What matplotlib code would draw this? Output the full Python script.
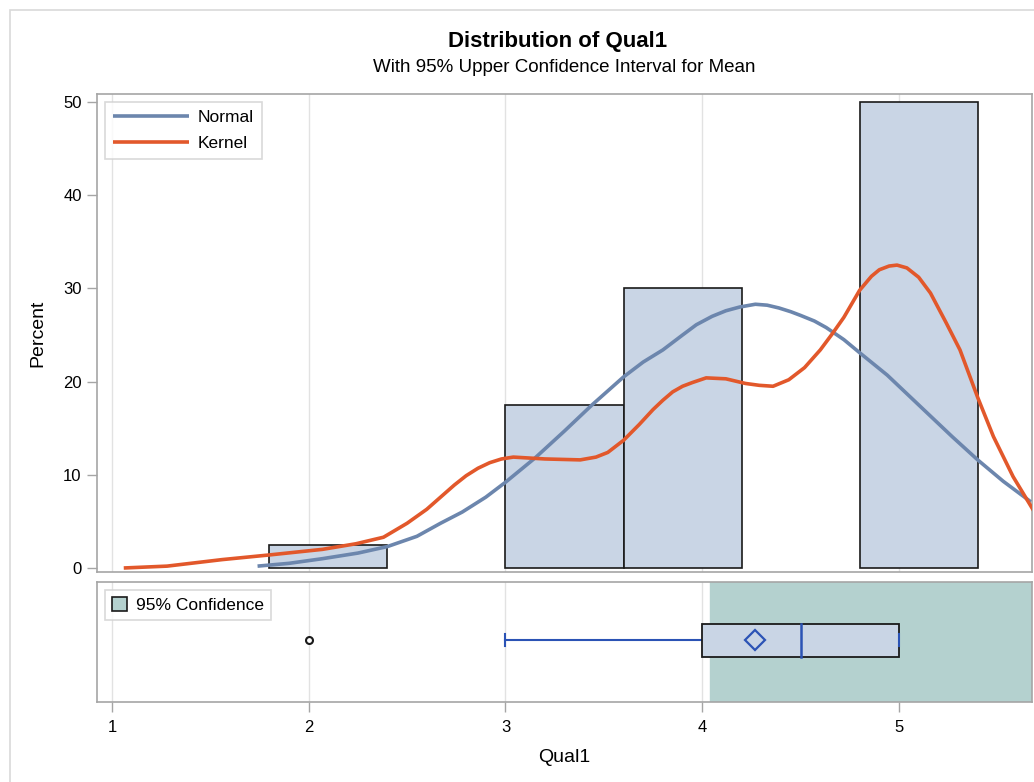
import matplotlib.pyplot as plt
from matplotlib.patches import Rectangle

plt.rcParams['font.family'] = ['Liberation Sans', 'DejaVu Sans']

# histogram bins of Qual1 (left edge, width, percent)
bin_left = [1.8, 3.0, 3.6, 4.8]
bin_width = 0.6
bin_pct = [2.5, 17.5, 30.0, 50.0]

# fitted normal density (percent scale)
normal_x = [1.74, 1.90, 2.07, 2.25, 2.40, 2.55, 2.67, 2.78, 2.90, 3.00, 3.15,
            3.30, 3.44, 3.60, 3.70, 3.80, 3.90, 3.97, 4.05, 4.12, 4.19, 4.27,
            4.33, 4.39, 4.45, 4.50, 4.57, 4.63, 4.72, 4.80, 4.94, 5.04, 5.14,
            5.27, 5.40, 5.53, 5.67]
normal_y = [0.2, 0.5, 1.0, 1.6, 2.3, 3.4, 4.8, 6.0, 7.6, 9.2, 11.8,
            14.7, 17.5, 20.5, 22.1, 23.4, 25.0, 26.1, 27.0, 27.6, 28.0, 28.3,
            28.2, 27.9, 27.5, 27.1, 26.5, 25.8, 24.5, 23.1, 20.7, 18.7, 16.7,
            14.1, 11.6, 9.3, 7.1]

# kernel density estimate (percent scale)
kernel_x = [1.06, 1.28, 1.56, 1.80, 2.07, 2.24, 2.38, 2.50, 2.60, 2.67, 2.74,
            2.80, 2.86, 2.92, 2.98, 3.04, 3.20, 3.38, 3.46, 3.52, 3.60, 3.68,
            3.75, 3.80, 3.85, 3.90, 3.95, 4.02, 4.12, 4.22, 4.29, 4.36, 4.44,
            4.52, 4.60, 4.66, 4.72, 4.80, 4.86, 4.90, 4.95, 4.99, 5.04, 5.10,
            5.16, 5.24, 5.31, 5.40, 5.48, 5.58, 5.70]
kernel_y = [0.0, 0.2, 0.9, 1.4, 2.0, 2.6, 3.3, 4.8, 6.3, 7.6, 8.9,
            9.9, 10.7, 11.3, 11.7, 11.9, 11.7, 11.6, 11.9, 12.4, 13.7, 15.4,
            17.0, 18.0, 18.9, 19.5, 19.9, 20.4, 20.3, 19.8, 19.6, 19.5, 20.2,
            21.5, 23.4, 25.1, 26.9, 29.8, 31.3, 32.0, 32.4, 32.5, 32.2, 31.2,
            29.5, 26.3, 23.4, 18.3, 14.1, 9.8, 5.6]

# box plot summary
q1, median, q3 = 4.0, 4.5, 5.0
mean = 4.27
whisker_lo, whisker_hi = 3.0, 5.0
outliers = [2.0]
ci_lower = 4.04  # lower bound of the 95% upper confidence interval for the mean

xlim = (0.924, 5.676)
xticks = [1, 2, 3, 4, 5]
yticks = [0, 10, 20, 30, 40, 50]

frame_col = '#A5A5A5'
grid_col = '#E2E2E2'
bar_col = '#C9D5E5'
normal_col = '#6C86AD'
kernel_col = '#E2582B'
ci_col = '#B4D1CF'
box_blue = '#2B53B5'

fig = plt.figure(figsize=(10.34, 7.82), dpi=100)

# light outer border
fig.add_artist(Rectangle((10 / 1034, -0.1), 1.2, 1 - 10 / 782 + 0.1,
                         transform=fig.transFigure, fill=False,
                         edgecolor='#D9D9D9', linewidth=1.2))

fig.text(0.539, 1 - 42 / 782, 'Distribution of Qual1', ha='center', va='center',
         fontsize=16, fontweight='bold')
fig.text(0.5455, 1 - 68 / 782, 'With 95% Upper Confidence Interval for Mean',
         ha='center', va='center', fontsize=13.5)

ax = fig.add_axes([97 / 1034, 1 - 572 / 782, 935 / 1034, 478 / 782])
bx = fig.add_axes([97 / 1034, 1 - 702 / 782, 935 / 1034, 120 / 782], sharex=ax)

for a in (ax, bx):
    for s in a.spines.values():
        s.set_color(frame_col)
        s.set_linewidth(1.2)
    for xv in xticks:
        a.axvline(xv, color=grid_col, linewidth=1, zorder=0)

# histogram and density curves
ax.bar(bin_left, bin_pct, width=bin_width, align='edge', color=bar_col,
       edgecolor='#1A1A1A', linewidth=1.2, zorder=2)
ax.plot(normal_x, normal_y, color=normal_col, linewidth=2.6, zorder=3,
        label='Normal', solid_capstyle='butt', solid_joinstyle='round')
ax.plot(kernel_x, kernel_y, color=kernel_col, linewidth=2.6, zorder=3,
        label='Kernel', solid_capstyle='butt', solid_joinstyle='round')
ax.set_xlim(*xlim)
ax.set_ylim(-0.43, 50.86)
ax.set_yticks(yticks)
ax.set_ylabel('Percent', fontsize=14, labelpad=12)
ax.tick_params(axis='y', direction='out', length=7, width=1, color=frame_col,
               labelsize=12, pad=4)
ax.tick_params(axis='x', bottom=False, labelbottom=False)
leg = ax.legend(loc='upper left', fontsize=12.5, frameon=True, fancybox=False,
                handlelength=4.4, borderaxespad=0.45, handletextpad=0.5,
                borderpad=0.45, labelspacing=0.65)
leg.get_frame().set_edgecolor('#D0D0D0')
leg.get_frame().set_linewidth(1.2)

# confidence band and box plot
bx.axvspan(ci_lower, xlim[1] + 1, color=ci_col, zorder=1)
bx.plot([whisker_lo, q1], [0, 0], color=box_blue, linewidth=1.5, zorder=3)
bx.plot([whisker_lo, whisker_lo], [-0.1, 0.1], color=box_blue, linewidth=1.5, zorder=3)
bx.add_patch(Rectangle((q1, -0.275), q3 - q1, 0.55, facecolor=bar_col,
                       edgecolor='#1A1A1A', linewidth=1.3, zorder=3))
bx.plot([median, median], [-0.275, 0.275], color=box_blue, linewidth=1.8, zorder=4)
bx.plot([whisker_hi, whisker_hi], [-0.1, 0.1], color=box_blue, linewidth=1.5, zorder=4)
bx.plot([mean], [0], marker='D', markersize=10, markerfacecolor='none',
        markeredgecolor=box_blue, markeredgewidth=1.6, linestyle='none', zorder=5)
bx.plot(outliers, [0] * len(outliers), marker='o', markersize=5,
        markerfacecolor='white', markeredgecolor='#1A1A1A', markeredgewidth=1.5,
        linestyle='none', zorder=5)
bx.set_ylim(-1.03, 0.97)
bx.set_yticks([])
bx.set_xlim(*xlim)
bx.set_xticks(xticks)
bx.set_xlabel('Qual1', fontsize=14, labelpad=10)
bx.tick_params(axis='x', direction='out', length=7, width=1, color=frame_col,
               labelsize=12, pad=6)
handle = Rectangle((0, 0), 1, 1, facecolor=ci_col, edgecolor='#1A1A1A', linewidth=1.2)
leg2 = bx.legend([handle], ['95% Confidence'], loc='upper left', fontsize=12.5,
                 frameon=True, fancybox=False, handlelength=0.85, handleheight=0.85,
                 borderaxespad=0.45, handletextpad=0.55, borderpad=0.4)
leg2.get_frame().set_edgecolor('#D0D0D0')
leg2.get_frame().set_linewidth(1.2)

fig.savefig('out.png', dpi=100)
